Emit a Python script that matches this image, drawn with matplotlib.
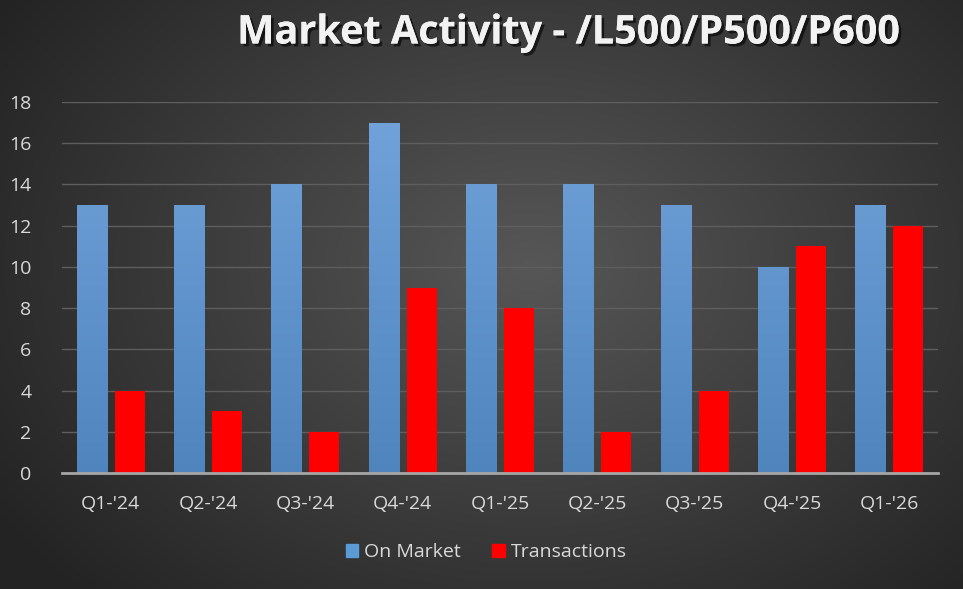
import numpy as np
import matplotlib.pyplot as plt
import matplotlib.patheffects as pe
from matplotlib.patches import Patch

quarters = ["Q1-'24", "Q2-'24", "Q3-'24", "Q4-'24", "Q1-'25", "Q2-'25", "Q3-'25", "Q4-'25", "Q1-'26"]
on_market = [13, 13, 14, 17, 14, 14, 13, 10, 13]
transactions = [4, 3, 2, 9, 8, 2, 4, 11, 12]

W, H = 963, 589
fig = plt.figure(figsize=(W / 100, H / 100), dpi=100)

# radial gradient background
bg = fig.add_axes([0, 0, 1, 1], zorder=-10)
yy, xx = np.mgrid[0:H, 0:W]
r = np.sqrt(((xx - W * 0.55) / (W * 0.62)) ** 2 + ((yy - H * 0.45) / (H * 0.75)) ** 2)
shade = np.clip(0.34 - 0.19 * r, 0.14, 0.34)
bg.imshow(np.dstack([shade] * 3), aspect='auto', extent=[0, 1, 0, 1])
bg.set_axis_off()

ax = fig.add_axes([62 / W, 1 - 473 / H, (938 - 62) / W, (473 - 102) / H])
ax.patch.set_alpha(0)

x = np.arange(len(quarters))
w = 0.31
off = 0.195
blue_bars = ax.bar(x - off, on_market, w, color='#5b9bd5', zorder=3)
red_bars = ax.bar(x + off, transactions, w, color='#ff0000', zorder=3)

# vertical gradient on the blue bars
grad = np.linspace(0, 1, 256).reshape(-1, 1)
top = np.array([0.45, 0.64, 0.86])
bottom = np.array([0.31, 0.52, 0.74])
img = bottom + (top - bottom) * grad[..., None]
for b in blue_bars:
    bx, bw = b.get_x(), b.get_width()
    im = ax.imshow(img, extent=[bx, bx + bw, 0, 18], origin='lower',
                   aspect='auto', zorder=4)
    im.set_clip_path(b)

ax.set_xlim(-0.5, len(quarters) - 0.5)
ax.set_ylim(0, 18)
ax.set_yticks(range(0, 19, 2))
ax.grid(axis='y', color='#5e5e5e', linewidth=1, zorder=0)
ax.set_axisbelow(True)
for s in ['top', 'right', 'left']:
    ax.spines[s].set_visible(False)
ax.spines['bottom'].set_color('#a6a6a6')
ax.spines['bottom'].set_linewidth(2)
ax.spines['bottom'].set_zorder(5)
ax.tick_params(length=0, colors='#d9d9d9', labelsize=14)
ax.tick_params(axis='y', pad=22)
ax.tick_params(axis='x', pad=16)
ax.set_xticks(x)
ax.set_xticklabels(quarters)
for t in ax.get_xticklabels() + ax.get_yticklabels():
    t.set_fontfamily(['Open Sans', 'DejaVu Sans'])

fig.text(568 / W, 1 - 33 / H, 'Market Activity - /L500/P500/P600', ha='center', va='center',
         color='#f2f2f2', fontsize=28.5, fontweight='bold', family=['Open Sans', 'DejaVu Sans'],
         path_effects=[pe.withSimplePatchShadow(offset=(2, -2), shadow_rgbFace='black', alpha=0.6),
                       pe.Normal()])

handles = [Patch(color='#5b9bd5', label='On Market'), Patch(color='#ff0000', label='Transactions')]
leg = fig.legend(handles=handles, loc='center', bbox_to_anchor=(486 / W, 1 - 552 / H), ncol=2,
                 frameon=False, handlelength=0.65, handleheight=0.65,
                 handletextpad=0.3, columnspacing=1.6,
                 prop={'family': ['Open Sans', 'DejaVu Sans'], 'size': 14})
for t in leg.get_texts():
    t.set_color('#d9d9d9')

fig.savefig('out.png', dpi=100)
